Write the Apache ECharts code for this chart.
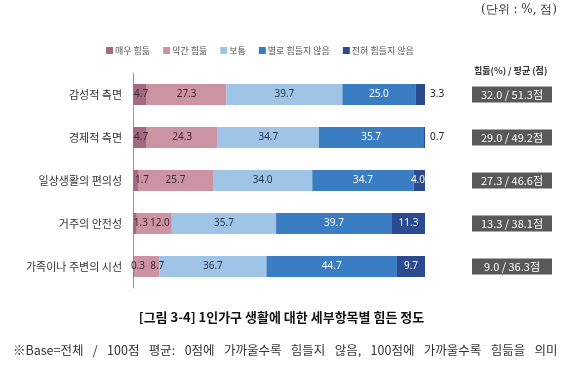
<!DOCTYPE html>
<html><head><meta charset="utf-8">
<script src="https://cdn.jsdelivr.net/npm/echarts@6/dist/echarts.min.js"></script>
<style>html,body{margin:0;padding:0;background:#fff}#c{width:563px;height:366px}</style>
</head><body><div id="c"></div>
<script>
const categories = ['감성적 측면','경제적 측면','일상생활의 편의성','거주의 안전성','가족이나 주변의 시선'];
const seriesNames = ['매우 힘듦','약간 힘듦','보통','별로 힘들지 않음','전혀 힘들지 않음'];
const veryHard   = [4.7, 4.7, 1.7, 1.3, 0.3];
const someHard   = [27.3, 24.3, 25.7, 12.0, 8.7];
const normal     = [39.7, 34.7, 34.0, 35.7, 36.7];
const notHard    = [25.0, 35.7, 34.7, 39.7, 44.7];
const notAtAll   = [3.3, 0.7, 4.0, 11.3, 9.7];
const summary    = ['32.0 / 51.3점','29.0 / 49.2점','27.3 / 46.6점','13.3 / 38.1점','9.0 / 36.3점'];
const colors = ['#a56a80','#cc94a3','#9fc4e8','#3a7dc2','#2b4a90'];
const labelColors = ['#3a2a30','#3a2a30','#2a3440','#ffffff','#ffffff'];

const allData = [veryHard, someHard, normal, notHard, notAtAll];
const font = '"Noto Sans CJK KR", "Noto Sans", sans-serif';
const footnote = '※Base=전체 / 100점 평균: 0점에 가까울수록 힘들지 않음, 100점에 가까울수록 힘듦을 의미';

const series = allData.map((arr, si) => ({
  name: seriesNames[si],
  type: 'bar',
  stack: 'total',
  barWidth: 21,
  itemStyle: { color: colors[si] },
  label: {
    show: true,
    position: 'inside',
    color: labelColors[si],
    fontSize: 10,
    fontFamily: '"Liberation Sans Narrow", "Noto Sans", sans-serif',
    formatter: p => p.value.toFixed(1)
  },
  data: arr.map((v, i) => {
    const d = { value: v };
    if (si === 0) {
      if (v < 2) d.label = { position: 'right', distance: 0, offset: [-3, 0] };
      else d.label = { position: 'insideLeft', distance: 1 };
    }
    if (si === 1 && i === 4) d.label = { position: 'insideRight', offset: [10, 0] };
    if (si === 1 && i === 3) d.label = { position: 'insideRight', offset: [3, 0] };
    if (si === 4 && v < 3.5) d.label = { position: 'right', distance: 5, color: '#222' };
    if (si === 4 && v >= 3.5 && v < 5) d.label = { position: 'insideRight', distance: 0 };
    return d;
  })
}));

const chart = echarts.init(document.getElementById('c'), null, { renderer: 'canvas' });
chart.setOption({
  animation: false,
  backgroundColor: '#fff',
  textStyle: { fontFamily: font },
  legend: {
    top: 41, left: 101,
    itemWidth: 7, itemHeight: 7, itemGap: 13,
    icon: 'rect',
    textStyle: { fontSize: 9, color: '#555', fontFamily: font, padding: [0, 0, 0, -3] },
    data: seriesNames
  },
  grid: { left: 133, right: 138, top: 73, bottom: 78 },
  xAxis: { type: 'value', min: 0, max: 100, show: false },
  yAxis: [{
    type: 'category', inverse: true, data: categories,
    axisLine: { show: true, lineStyle: { color: '#999', width: 1 } },
    axisTick: { show: false },
    axisLabel: { color: '#333', fontSize: 11, margin: 11, fontFamily: font }
  }, {
    type: 'category', inverse: true, data: summary, position: 'right',
    axisLine: { show: false }, axisTick: { show: false },
    axisLabel: {
      margin: 47, align: 'left',
      formatter: v => '{b|' + v + '}',
      rich: { b: { backgroundColor: '#595959', color: '#fff', width: 76, align: 'center', padding: [3, 2, 2, 2], fontSize: 11, fontFamily: font } }
    }
  }],
  series: series,
  graphic: [
    { type: 'text', right: 6, top: 4, style: { text: '(단위 : %, 점)', fill: '#333', font: '12px "DejaVu Serif", serif' } },
    { type: 'text', left: 474, top: 66, style: { text: '힘듦(%) / 평균 (점)', font: 'bold 9px "Noto Sans CJK KR", sans-serif', fill: '#333' } },
    { type: 'text', left: 'center', top: 311, style: { text: '[그림 3-4] 1인가구 생활에 대한 세부항목별 힘든 정도', font: 'bold 13px "Noto Sans CJK KR", sans-serif', fill: '#111' } },
    { type: 'text', left: 13, top: 344, style: { text: footnote.split(' ').join('\u2002\u2005'), font: '12.5px "Noto Sans CJK KR", sans-serif', fill: '#333' } }
  ]
});
</script></body></html>
